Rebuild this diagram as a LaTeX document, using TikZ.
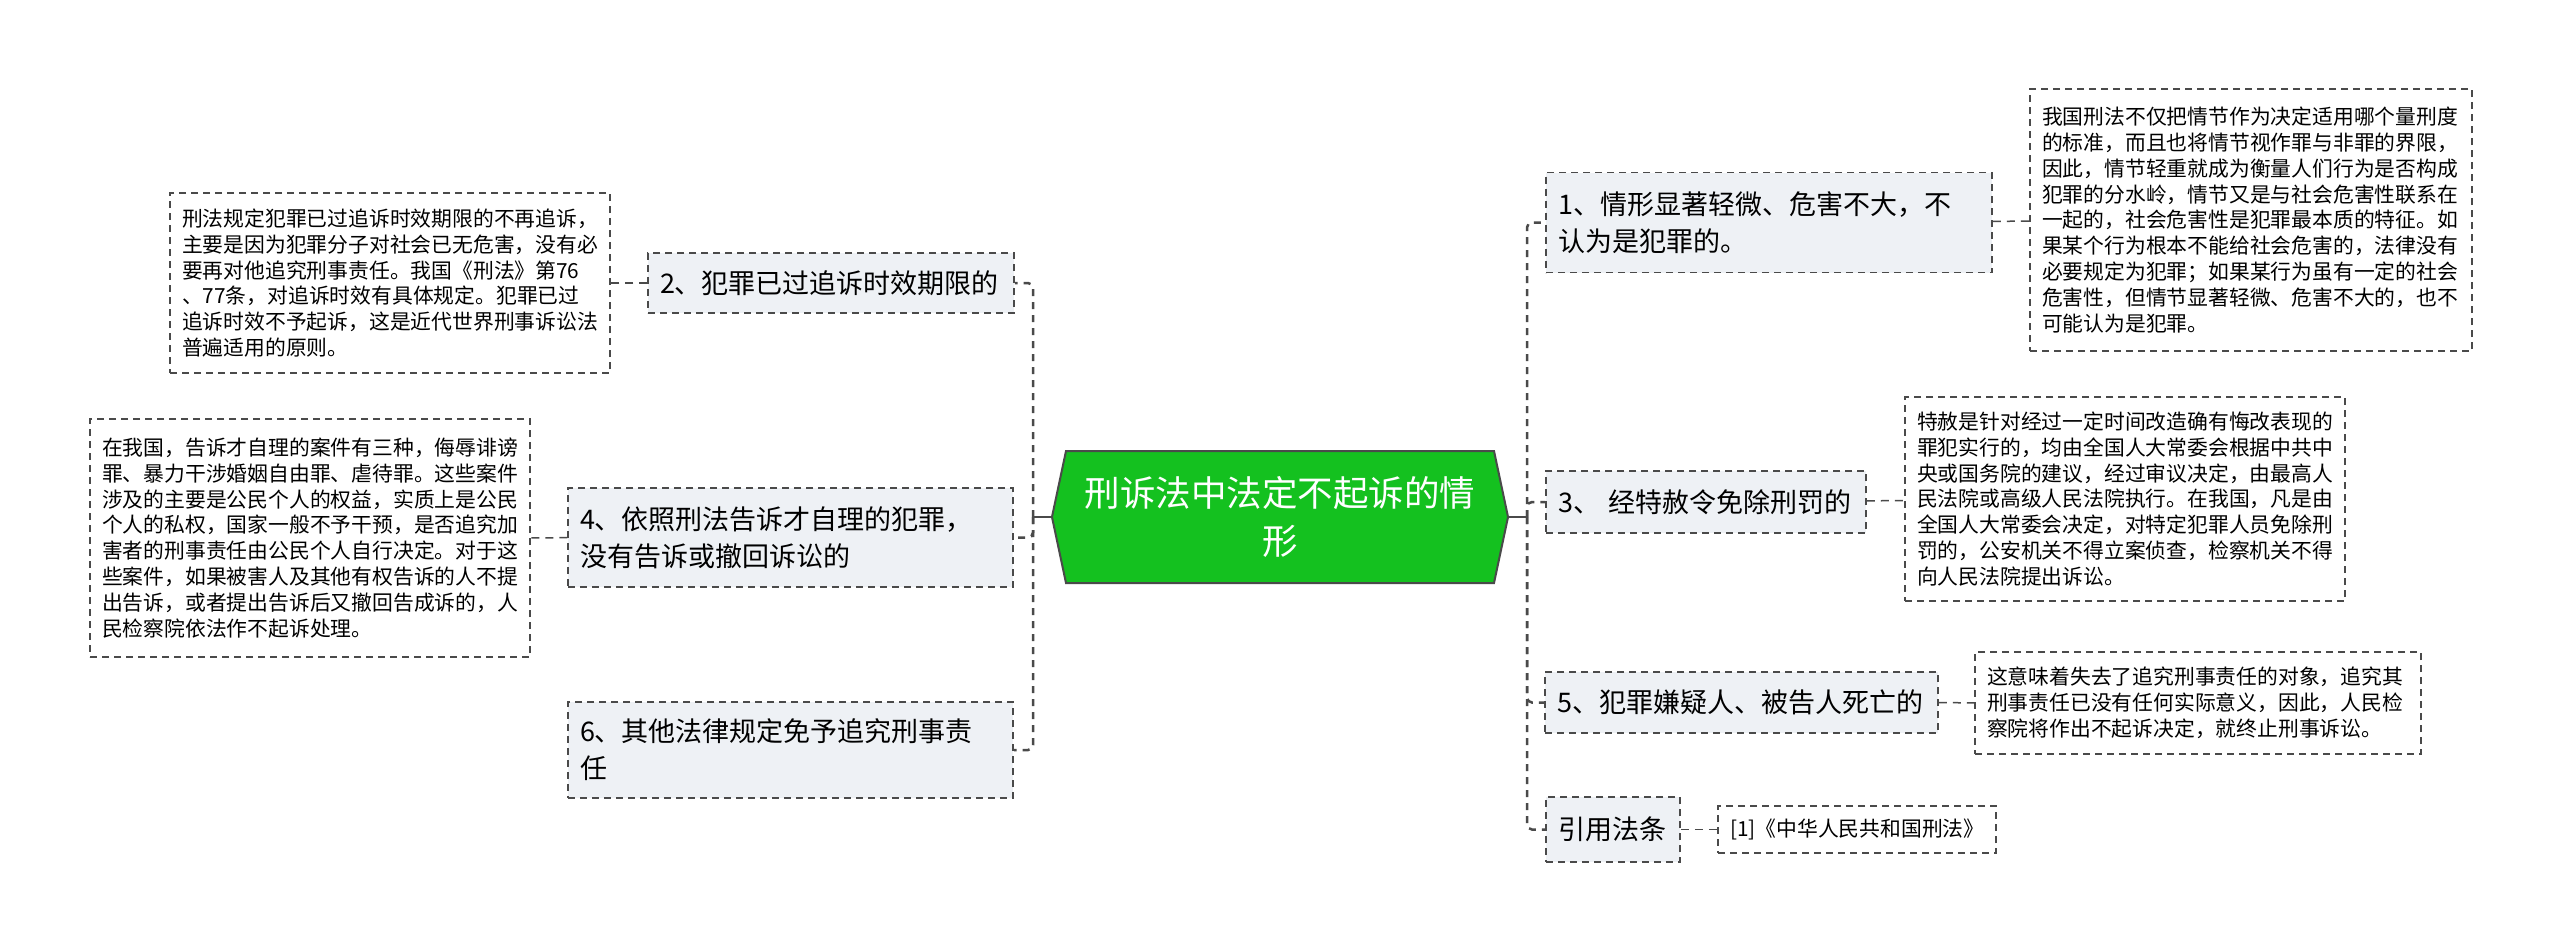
\documentclass[tikz,border=0pt]{standalone}
\usepackage{fontspec}
\setmainfont{Noto Sans CJK SC}
\usetikzlibrary{shapes.symbols}

\definecolor{rootgreen}{HTML}{14C11F}
\definecolor{boxfill}{HTML}{EEF1F5}
\definecolor{lineg}{HTML}{4A4A4A}

\begin{document}
\begin{tikzpicture}[x=1pt, y=-1pt,
  topic/.style={signal, signal to=east and west, signal pointer angle=156, draw=lineg, line width=2pt, fill=rootgreen, text=white, font=\fontsize{35.5}{48}\selectfont, align=center, text width=392pt, inner xsep=18pt, minimum height=132pt},
  sub/.style={draw=lineg, line width=1.5pt, dash pattern=on 7pt off 5pt, fill=boxfill, font=\fontsize{27}{37}\selectfont, align=left, inner xsep=12pt, inner ysep=0pt},
  note/.style={draw=lineg, line width=1.5pt, dash pattern=on 7pt off 5pt, fill=white, font=\fontsize{20.8}{25.8}\selectfont, align=left, inner xsep=12pt, inner ysep=0pt},
  link/.style={draw=lineg, line width=2.5pt, dash pattern=on 7pt off 6pt, rounded corners=5pt},
  tie/.style={draw=lineg, line width=1.5pt, dash pattern=on 8pt off 6pt}]
\useasboundingbox (0,0) rectangle (2560,951);

\node[topic] (root) at (1280,517) {刑诉法中法定不起诉的情\\形};

\node[sub, text width=422pt, minimum height=100pt] (n1) at (1769,222.5) {1、情形显著轻微、危害不大，不\\认为是犯罪的。};
\node[sub, text width=296pt, minimum height=62pt] (n3) at (1706,502) {3、 经特赦令免除刑罚的};
\node[sub, text width=369pt, minimum height=61pt] (n5) at (1741.5,702.5) {5、犯罪嫌疑人、被告人死亡的};
\node[sub, text width=110pt, minimum height=65pt] (law) at (1613,829.5) {引用法条};
\node[sub, text width=342pt, minimum height=60pt] (n2) at (831,283) {2、犯罪已过追诉时效期限的};
\node[sub, text width=421pt, minimum height=99pt] (n4) at (790.5,537.5) {4、依照刑法告诉才自理的犯罪，\\没有告诉或撤回诉讼的};
\node[sub, text width=421pt, minimum height=96pt] (n6) at (790.5,750) {6、其他法律规定免予追究刑事责\\任};

\node[note, text width=418pt, minimum height=262pt] (d1) at (2251,220) {我国刑法不仅把情节作为决定适用哪个量刑度\\的标准，而且也将情节视作罪与非罪的界限，\\因此，情节轻重就成为衡量人们行为是否构成\\犯罪的分水岭，情节又是与社会危害性联系在\\一起的，社会危害性是犯罪最本质的特征。如\\果某个行为根本不能给社会危害的，法律没有\\必要规定为犯罪；如果某行为虽有一定的社会\\危害性，但情节显著轻微、危害不大的，也不\\可能认为是犯罪。};
\node[note, text width=416pt, minimum height=204pt] (d3) at (2125,499) {特赦是针对经过一定时间改造确有悔改表现的\\罪犯实行的，均由全国人大常委会根据中共中\\央或国务院的建议，经过审议决定，由最高人\\民法院或高级人民法院执行。在我国，凡是由\\全国人大常委会决定，对特定犯罪人员免除刑\\罚的，公安机关不得立案侦查，检察机关不得\\向人民法院提出诉讼。};
\node[note, text width=422pt, minimum height=102pt] (d5) at (2198,703) {这意味着失去了追究刑事责任的对象，追究其\\刑事责任已没有任何实际意义，因此，人民检\\察院将作出不起诉决定，就终止刑事诉讼。};
\node[note, text width=254pt, minimum height=47pt] (dlaw) at (1857,829.5) {[1]《中华人民共和国刑法》};
\node[note, text width=416pt, minimum height=180pt] (d2) at (390,283) {刑法规定犯罪已过追诉时效期限的不再追诉，\\主要是因为犯罪分子对社会已无危害，没有必\\要再对他追究刑事责任。我国《刑法》第76\\、77条，对追诉时效有具体规定。犯罪已过\\追诉时效不予起诉，这是近代世界刑事诉讼法\\普遍适用的原则。};
\node[note, text width=416pt, minimum height=238pt] (d4) at (310,538) {在我国，告诉才自理的案件有三种，侮辱诽谤\\罪、暴力干涉婚姻自由罪、虐待罪。这些案件\\涉及的主要是公民个人的权益，实质上是公民\\个人的私权，国家一般不予干预，是否追究加\\害者的刑事责任由公民个人自行决定。对于这\\些案件，如果被害人及其他有权告诉的人不提\\出告诉，或者提出告诉后又撤回告成诉的，人\\民检察院依法作不起诉处理。};

\coordinate (lj) at (1033,517);
\coordinate (rj) at (1527,517);
\draw[lineg, line width=2.5pt] (root.west) -- (lj);
\draw[lineg, line width=2.5pt] (root.east) -- (rj);
\draw[link] (lj) |- (n2);
\draw[link] (lj) |- (n4);
\draw[link] (lj) |- (n6);
\draw[link] (rj) |- (n1);
\draw[link] (rj) |- (n3);
\draw[link] (rj) |- (n5);
\draw[link] (rj) |- (law);

\draw[tie] (n1) -- (d1);
\draw[tie] (n3) -- (d3);
\draw[tie] (n5) -- (d5);
\draw[tie] (law) -- (dlaw);
\draw[tie] (n2) -- (d2);
\draw[tie] (n4) -- (d4);
\end{tikzpicture}
\end{document}
